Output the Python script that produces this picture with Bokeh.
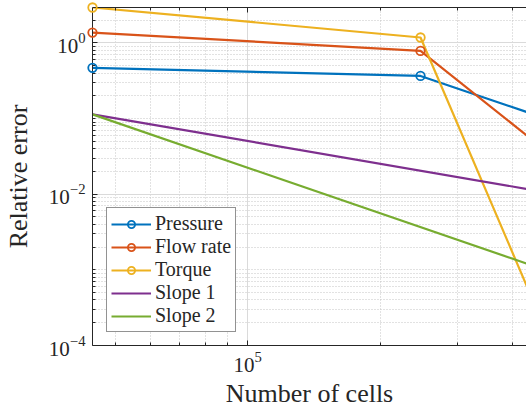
from bokeh.plotting import figure
from bokeh.models import FixedTicker, LogAxis, Legend, LegendItem, Range1d
from bokeh.embed import file_html
from bokeh.resources import INLINE

# ---- data ----
n_cells = [44400, 247000, 500000]
pressure = [0.468, 0.366, 0.091]
flow_rate = [1.37, 0.784, 0.030]
torque = [2.94, 1.18, 8.0e-5]
slope_x = [44400, 500000]
slope1 = [0.1137, 0.0101]
slope2 = [0.1137, 8.97e-4]

x_major = [1e5]
x_minor = [5e4, 6e4, 7e4, 8e4, 9e4, 2e5, 3e5, 4e5]
y_major = [1e-4, 1e-2, 1e0]
y_minor = [m * 10.0 ** e for e in (-4, -3, -2, -1, 0) for m in (2, 3, 4, 5, 6, 7, 8, 9)] + [1e-3, 1e-1]

colors = ["#0072BD", "#D95319", "#EDB120", "#7E2F8E", "#77AC30"]
AX = "#262626"
FONT = "Liberation Serif"

p = figure(width=526, height=410, x_axis_type="log", y_axis_type="log",
           x_range=Range1d(44400, 4.30e5), y_range=Range1d(1e-4, 2.94),
           output_backend="svg", toolbar_location=None,
           min_border_left=90, min_border_right=0, min_border_top=7, min_border_bottom=64)
p.outline_line_color = None
p.background_fill_color = "white"
p.border_fill_color = "white"

xt = FixedTicker(ticks=x_major, minor_ticks=x_minor)
yt = FixedTicker(ticks=y_major, minor_ticks=y_minor)

for ax, t in ((p.xaxis[0], xt), (p.yaxis[0], yt)):
    ax.ticker = t
    ax.axis_line_color = AX
    ax.major_tick_line_color = AX
    ax.minor_tick_line_color = AX
    ax.major_tick_in = 5
    ax.major_tick_out = 0
    ax.minor_tick_in = 3
    ax.minor_tick_out = 0
    ax.major_label_text_font = FONT
    ax.major_label_text_font_size = "21px"
    ax.major_label_text_color = AX
    ax.axis_label_text_font = FONT
    ax.axis_label_text_font_size = "26px"
    ax.axis_label_text_font_style = "normal"
    ax.axis_label_text_color = AX

p.xaxis.axis_label = "Number of cells"
p.yaxis.axis_label = "Relative error"
p.xaxis.major_label_standoff = 6
p.xaxis.axis_label_standoff = 4
p.yaxis.major_label_standoff = 7
p.yaxis.axis_label_standoff = 13

top = LogAxis(ticker=xt, major_label_text_font_size="1px", major_label_text_alpha=0,
              axis_line_color=AX,
              major_tick_line_color=AX, minor_tick_line_color=AX,
              major_tick_in=5, major_tick_out=0, minor_tick_in=3, minor_tick_out=0,
              major_label_standoff=0)
p.add_layout(top, "above")

for g, t in ((p.xgrid[0], xt), (p.ygrid[0], yt)):
    g.ticker = t
    g.grid_line_color = "#dadada"
    g.grid_line_width = 1
    g.minor_grid_line_color = "#c4c4c4"
    g.minor_grid_line_dash = "1 2"
    g.minor_grid_line_width = 1

items = []
for label, ys, c in (("Pressure", pressure, colors[0]),
                     ("Flow rate", flow_rate, colors[1]),
                     ("Torque", torque, colors[2])):
    lr = p.line(n_cells, ys, line_color=c, line_width=2.2)
    sr = p.scatter(n_cells, ys, marker="circle", size=8.5, line_color=c, line_width=1.8,
                   fill_color=None, level="overlay")
    items.append(LegendItem(label=label, renderers=[lr, sr]))

for label, ys, c in (("Slope 1", slope1, colors[3]), ("Slope 2", slope2, colors[4])):
    lr = p.line(slope_x, ys, line_color=c, line_width=2.2)
    items.append(LegendItem(label=label, renderers=[lr]))

legend = Legend(items=items, location=(14, 13))
legend.border_line_color = AX
legend.border_line_width = 1
legend.background_fill_color = "white"
legend.background_fill_alpha = 1
legend.label_text_font = FONT
legend.label_text_font_size = "20px"
legend.label_text_color = AX
legend.glyph_width = 40
legend.glyph_height = 18
legend.label_height = 18
legend.label_standoff = 4
legend.padding = 4
legend.spacing = 0
legend.margin = 0
p.add_layout(legend)

open("out.html", "w").write(file_html(p, INLINE))
